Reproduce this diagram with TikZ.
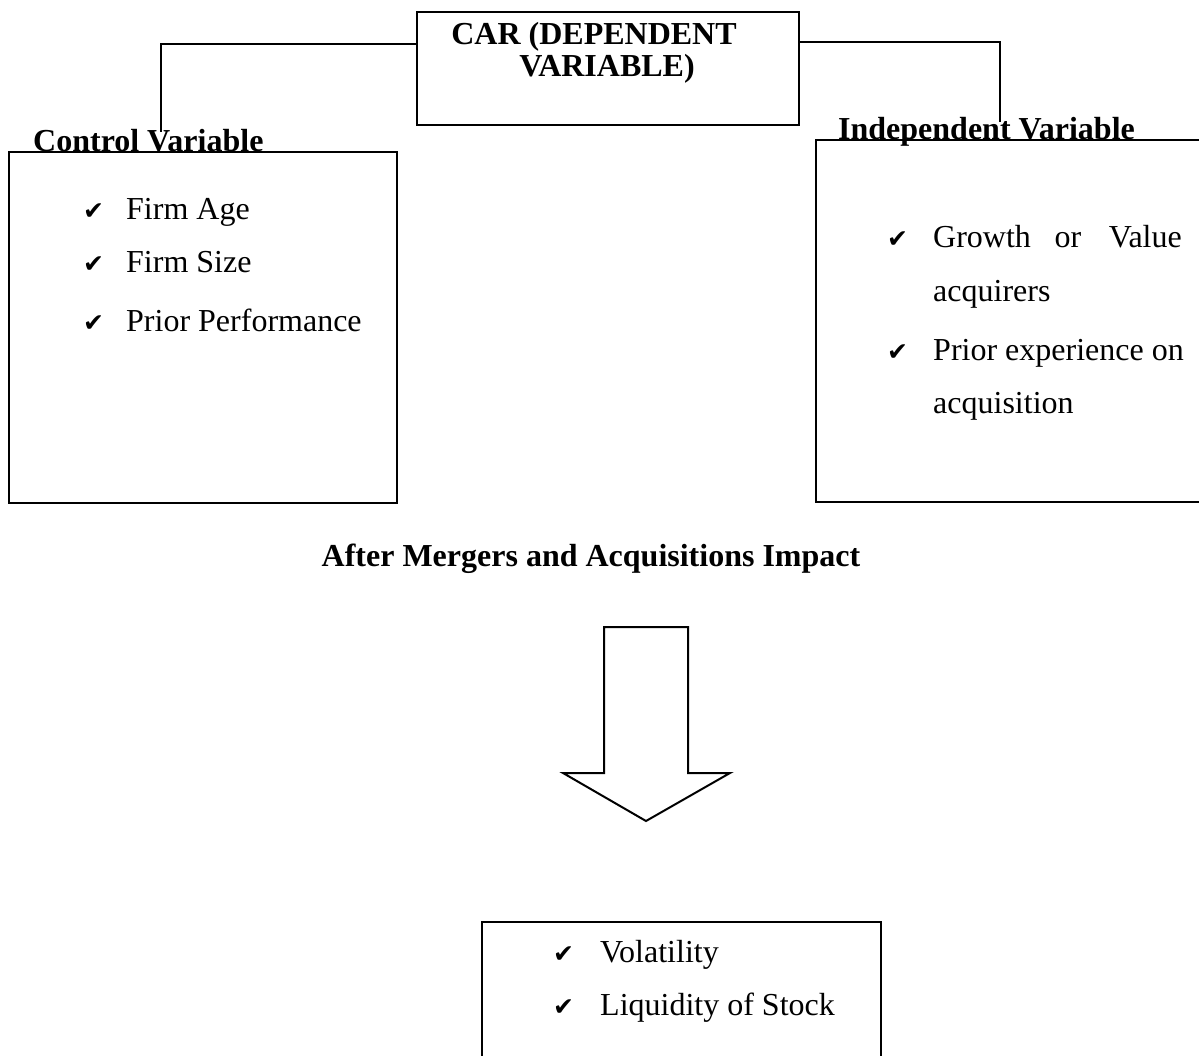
\documentclass[tikz,border=0pt]{standalone}
\usepackage{fontspec}
\setmainfont{Liberation Serif}
\newfontfamily\checkfont{DejaVu Sans}
\begin{document}
\begin{tikzpicture}[x=1pt,y=-1pt,
  boxstyle/.style={draw,line width=2.2pt,inner sep=0pt},
  linkstyle/.style={line width=2.2pt},
  txt/.style={anchor=base west,inner sep=0pt,font=\fontsize{32}{38}\selectfont},
  btxt/.style={inner sep=0pt,font=\fontsize{32}{38}\selectfont\bfseries},
  chk/.style={anchor=base west,inner sep=0pt,font=\checkfont\fontsize{25}{28}\selectfont}]
\useasboundingbox (0,0) rectangle (1199,1056);
% boxes
\node[boxstyle,minimum width=382pt,minimum height=113pt] (car) at (608,68.5) {};
\node[boxstyle,minimum width=388pt,minimum height=351pt] (ctrl) at (203,327.5) {};
\node[boxstyle,minimum width=400pt,minimum height=362pt,anchor=north west] (indep) at (815,139) {};
\node[boxstyle,minimum width=399pt,minimum height=200pt,anchor=north west] (result) at (481,921) {};
% top box text
\node[btxt,anchor=base] (cartxt1) at (594,45) {CAR (DEPENDENT};
\node[btxt,anchor=base] (cartxt2) at (607,77) {VARIABLE)};
% connectors
\coordinate (lc) at (161,44);
\coordinate (lend) at (161,132);
\coordinate (rc) at (1000,42);
\coordinate (rend) at (1000,122);
\draw[linkstyle] (car.west |- 0,44) -- (lc) -- (lend);
\draw[linkstyle] (car.east |- 0,42) -- (rc) -- (rend);
% titles
\node[btxt,anchor=base west] (ctrltitle) at (33,152) {Control Variable};
\node[btxt,anchor=base west] (indeptitle) at (838,140) {Independent Variable};
% control items
\node[chk] (c1) at (83,220) {✔};
\node[txt] (t1) at (126,220) {Firm Age};
\node[chk] (c2) at (83,273) {✔};
\node[txt] (t2) at (126,273) {Firm Size};
\node[chk] (c3) at (83,332) {✔};
\node[txt] (t3) at (126,332) {Prior Performance};
% independent items
\node[chk] (i1) at (887,248) {✔};
\node[txt] (g1) at (933,248) {Growth};
\node[txt,anchor=base] (g2) at (1068,248) {or};
\node[txt,anchor=base east] (g3) at (1182,248) {Value};
\node[txt] (g4) at (933,302) {acquirers};
\node[chk] (i2) at (887,360) {✔};
\node[txt] (p1) at (933,360) {Prior experience on};
\node[txt] (p2) at (933,413) {acquisition};
% impact title
\node[btxt,anchor=base] (impact) at (591,566) {After Mergers and Acquisitions Impact};
% big arrow
\draw[line width=2pt,line join=miter] (604,627) -- (688,627) -- (688,773) -- (730,773) -- (646,821) -- (563,773) -- (604,773) -- cycle;
% result items
\node[chk] (r1) at (553,962) {✔};
\node[txt] (v1) at (600,962) {Volatility};
\node[chk] (r2) at (553,1015) {✔};
\node[txt] (v2) at (600,1015) {Liquidity of Stock};
\end{tikzpicture}
\end{document}
